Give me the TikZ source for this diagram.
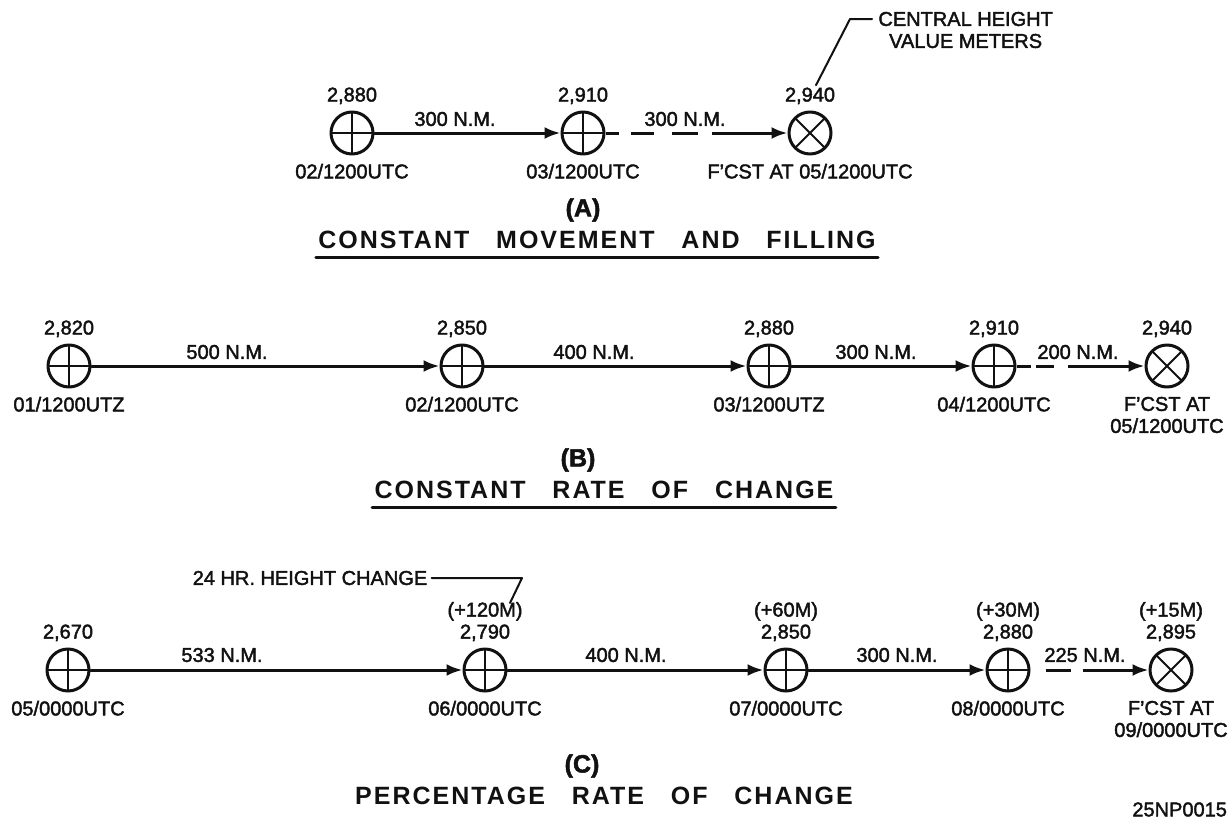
\documentclass[tikz,border=0pt]{standalone}
\usepackage{fontspec}
\setmainfont[FakeBold=2]{Liberation Sans}
\newfontfamily\ttlfont[LetterSpace=8,WordSpace=3]{Liberation Sans}
\usepackage{tikz}
\usetikzlibrary{arrows.meta,positioning}
\definecolor{ink}{HTML}{111111}

\tikzset{
  lbl/.style={inner sep=1pt,font=\fontsize{10}{11}\selectfont,text=ink,align=center},
  ctr/.style={circle,draw=ink,line width=1.5pt,minimum size=21pt,inner sep=0pt,
    path picture={\draw[ink,line width=1pt]
      (path picture bounding box.north)--(path picture bounding box.south)
      (path picture bounding box.west)--(path picture bounding box.east);}},
  fcst/.style={circle,draw=ink,line width=1.5pt,minimum size=21pt,inner sep=0pt,
    path picture={\draw[ink,line width=1pt]
      (path picture bounding box.north west)--(path picture bounding box.south east)
      (path picture bounding box.south west)--(path picture bounding box.north east);}},
  conn/.style={ink,line width=1.5pt,-{Latex[length=8pt,width=6pt]}},
  lead/.style={ink,line width=1pt},
  part/.style={font=\bfseries\fontsize{12.5}{14}\selectfont,text=ink,inner sep=1pt},
  ttl/.style={font=\ttlfont\bfseries\fontsize{12.5}{14}\selectfont,text=ink,inner sep=1pt},
  uline/.style={ink,line width=1.5pt}
}

\begin{document}
\begin{tikzpicture}[x=0.5pt,y=-0.5pt,line cap=round,line join=round]
  \useasboundingbox (0,0) rectangle (1231,819);

  % (A)
  \node[ctr] (a1) at (352,133) {};
  \node[ctr] (a2) at (583,133) {};
  \node[fcst] (a3) at (810,133) {};
  \node[lbl,above=2pt of a1] (a1v) {2,880};
  \node[lbl,above=2pt of a2] (a2v) {2,910};
  \node[lbl,above=2pt of a3] (a3v) {2,940};
  \node[lbl,below=3pt of a1] (a1t) {02/1200UTC};
  \node[lbl,below=3pt of a2] (a2t) {03/1200UTC};
  \node[lbl,below=3pt of a3] (a3t) {F'CST AT 05/1200UTC};
  \draw[conn] (a1) -- (a2);
  \draw[conn,line cap=butt,dash pattern=on 6.5pt off 6pt on 11.5pt off 9pt on 13pt off 7pt on 200pt] (a2) -- (a3);
  \node[lbl] (a12) at (455,119) {300 N.M.};
  \node[lbl] (a23) at (685,119) {300 N.M.};
  \node[lbl,anchor=west,inner sep=3pt] (cen) at (872,30) {CENTRAL HEIGHT\\VALUE METERS};
  \coordinate (ka) at (850,19);
  \draw[lead] ([xshift=3pt]a3v.north) -- (ka) -- (cen.west |- ka);
  \node[part] (pa) at (583,210) {(A)};
  \node[ttl] (ta) at (597,240) {CONSTANT MOVEMENT AND FILLING};
  \draw[uline] ([yshift=-3pt]ta.south west) -- ([yshift=-3pt]ta.south east);

  % (B)
  \node[ctr] (b1) at (69,366) {};
  \node[ctr] (b2) at (462,366) {};
  \node[ctr] (b3) at (769,366) {};
  \node[ctr] (b4) at (994,366) {};
  \node[fcst] (b5) at (1167,366) {};
  \node[lbl,above=2pt of b1] (b1v) {2,820};
  \node[lbl,above=2pt of b2] (b2v) {2,850};
  \node[lbl,above=2pt of b3] (b3v) {2,880};
  \node[lbl,above=2pt of b4] (b4v) {2,910};
  \node[lbl,above=2pt of b5] (b5v) {2,940};
  \node[lbl,below=3pt of b1] (b1t) {01/1200UTZ};
  \node[lbl,below=3pt of b2] (b2t) {02/1200UTC};
  \node[lbl,below=3pt of b3] (b3t) {03/1200UTZ};
  \node[lbl,below=3pt of b4] (b4t) {04/1200UTC};
  \node[lbl,below=3pt of b5] (b5t) {F'CST AT\\05/1200UTC};
  \draw[conn] (b1) -- (b2);
  \draw[conn] (b2) -- (b3);
  \draw[conn] (b3) -- (b4);
  \draw[conn,line cap=butt,dash pattern=on 7pt off 2.5pt on 9pt off 7pt on 200pt] (b4) -- (b5);
  \node[lbl] (b12) at (227,352) {500 N.M.};
  \node[lbl] (b23) at (594,352) {400 N.M.};
  \node[lbl] (b34) at (876,352) {300 N.M.};
  \node[lbl] (b45) at (1078,352) {200 N.M.};
  \node[part] (pb) at (578,460) {(B)};
  \node[ttl] (tb) at (604,490) {CONSTANT RATE OF CHANGE};
  \draw[uline] ([yshift=-3pt]tb.south west) -- ([yshift=-3pt]tb.south east);

  % (C)
  \node[ctr] (c1) at (68,670) {};
  \node[ctr] (c2) at (485,670) {};
  \node[ctr] (c3) at (786,670) {};
  \node[ctr] (c4) at (1008,670) {};
  \node[fcst] (c5) at (1171,670) {};
  \node[lbl,above=2pt of c1] (c1v) {2,670};
  \node[lbl,above=2pt of c2] (c2v) {(+120M)\\2,790};
  \node[lbl,above=2pt of c3] (c3v) {(+60M)\\2,850};
  \node[lbl,above=2pt of c4] (c4v) {(+30M)\\2,880};
  \node[lbl,above=2pt of c5] (c5v) {(+15M)\\2,895};
  \node[lbl,below=3pt of c1] (c1t) {05/0000UTC};
  \node[lbl,below=3pt of c2] (c2t) {06/0000UTC};
  \node[lbl,below=3pt of c3] (c3t) {07/0000UTC};
  \node[lbl,below=3pt of c4] (c4t) {08/0000UTC};
  \node[lbl,below=3pt of c5] (c5t) {F'CST AT\\09/0000UTC};
  \draw[conn] (c1) -- (c2);
  \draw[conn] (c2) -- (c3);
  \draw[conn] (c3) -- (c4);
  \draw[conn,line cap=butt,dash pattern=on 0pt off 7.5pt on 12.5pt off 6pt on 200pt] (c4) -- (c5);
  \node[lbl] (c12) at (222,655) {533 N.M.};
  \node[lbl] (c23) at (626,655) {400 N.M.};
  \node[lbl] (c34) at (897,655) {300 N.M.};
  \node[lbl] (c45) at (1085,655) {225 N.M.};
  \node[lbl,inner sep=2pt] (hc) at (310,578) {24 HR. HEIGHT CHANGE};
  \coordinate (kc) at (522,578);
  \draw[lead] (hc.east) -- (kc) -- (510,603);
  \node[part] (pc) at (582,766) {(C)};
  \node[ttl] (tc) at (604,796) {PERCENTAGE RATE OF CHANGE};
  \node[lbl,anchor=north west,inner sep=0pt] (ref) at (1132,802) {25NP0015};
\end{tikzpicture}
\end{document}
